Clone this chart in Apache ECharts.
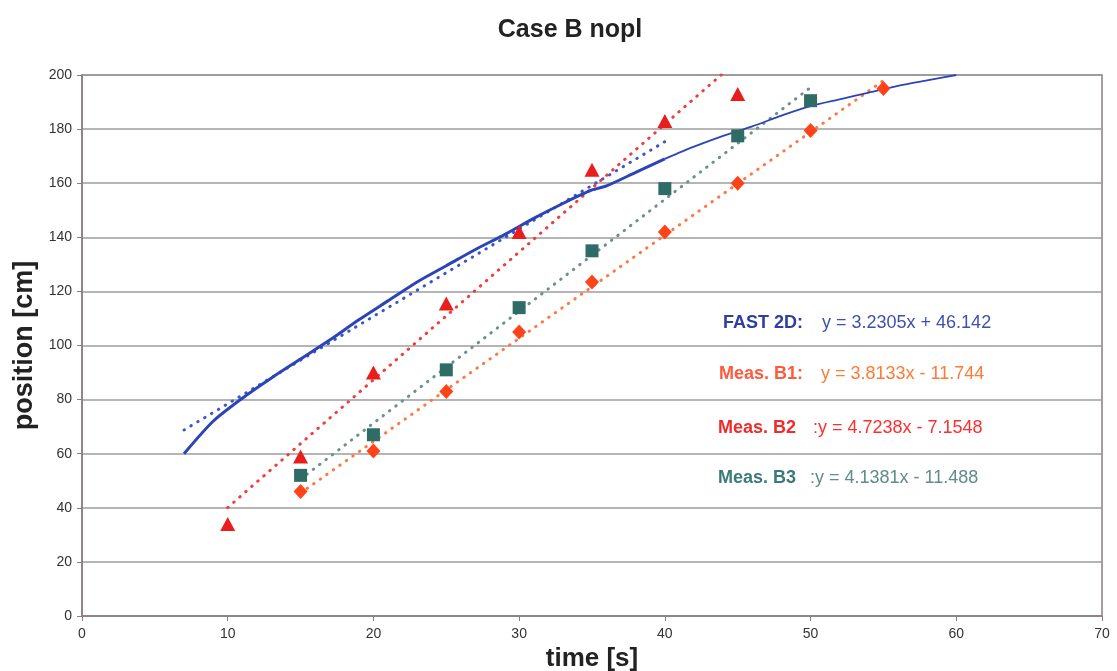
<!DOCTYPE html>
<html>
<head>
<meta charset="utf-8">
<title>Case B nopl</title>
<script src="https://cdn.jsdelivr.net/npm/echarts@6/dist/echarts.min.js"></script>
<style>
  html, body { margin: 0; padding: 0; background: #ffffff; }
  #chart { width: 1117px; height: 671px; }
</style>
</head>
<body>
<div id="chart"></div>
<script>
// FAST 2D simulated position over time (solid curve)
const fastTime = [7, 9, 11, 13, 15, 17, 19, 21, 23, 25, 27, 29, 31, 33, 35, 36, 38, 40, 42, 44, 46, 48, 50, 52, 54, 56, 58, 60];
const fastPos  = [60, 72, 80.5, 88, 95, 102, 109.5, 116.5, 123.5, 129.5, 135.5, 141, 147, 152.5, 157.5, 159, 164, 169, 173.5, 177.5, 181, 185, 188.5, 191, 193.5, 196, 198, 200];

// Measurements
const b1Time = [15, 20, 25, 30, 35, 40, 45, 50, 55];
const b1Pos  = [46, 61, 83, 105, 123.5, 142, 160, 179.5, 195];

const b2Time = [10, 15, 20, 25, 30, 35, 40, 45];
const b2Pos  = [34, 59, 90, 115.5, 142, 165, 183, 193];

const b3Time = [15, 20, 25, 30, 35, 40, 45, 50];
const b3Pos  = [52, 67, 91, 114, 135, 158, 177.5, 190.5];

// Linear trend lines: y = slope * x + intercept, drawn over [from, to]
const trendNames      = ['FAST 2D', 'Meas. B1', 'Meas. B2', 'Meas. B3'];
const trendSlopes     = [3.2305, 3.8133, 4.7238, 4.1381];
const trendIntercepts = [46.142, -11.744, -7.1548, -11.488];
const trendFrom       = [7, 15, 10, 15];
const trendTo         = [40, 55, 45, 50];

// Equation labels
const eqLabels = ['FAST 2D:', 'Meas. B1:', 'Meas. B2', 'Meas. B3'];
const eqTexts  = ['y = 3.2305x + 46.142', 'y = 3.8133x - 11.744', ':y = 4.7238x - 7.1548', ':y = 4.1381x - 11.488'];

// Axis ticks
const xTicks = [0, 10, 20, 30, 40, 50, 60, 70];
const yTicks = [0, 20, 40, 60, 80, 100, 120, 140, 160, 180, 200];

const trendColors = ['#3b55cf', '#ff7842', '#f03c3c', '#6a918a'];
const labelColors = ['#2f3f9f', '#ff5a3c', '#f22a2a', '#3b7a78'];
const eqColors    = ['#4050b2', '#ff7a36', '#ff2e2e', '#5f8c88'];
const labelX = [723, 719, 718, 718];
const eqX    = [822, 821, 813, 810];
const rowY   = [325, 376, 430, 480];

const pairs = (xs, ys) => xs.map((x, i) => [x, ys[i]]);

const fastPairs = pairs(fastTime, fastPos);
const fastHead = fastPairs.filter(p => p[0] <= 40);
const fastTail = fastPairs.filter(p => p[0] >= 40);

const trendSeries = trendNames.map((name, i) => ({
  name: name + ' trend',
  type: 'line',
  data: [
    [trendFrom[i], trendSlopes[i] * trendFrom[i] + trendIntercepts[i]],
    [trendTo[i], trendSlopes[i] * trendTo[i] + trendIntercepts[i]]
  ],
  showSymbol: false,
  symbol: 'none',
  clip: true,
  z: 2,
  lineStyle: { color: trendColors[i], width: 3, type: [0.5, 7.5], cap: 'round' }
}));

const graphics = [];
eqLabels.forEach((t, i) => {
  graphics.push({
    type: 'text', left: labelX[i], top: rowY[i] - 11,
    style: { text: t, fill: labelColors[i], font: 'bold 18px "Liberation Sans", Arial, sans-serif' }
  });
  graphics.push({
    type: 'text', left: eqX[i], top: rowY[i] - 11,
    style: { text: eqTexts[i], fill: eqColors[i], font: '18px "Liberation Sans", Arial, sans-serif' }
  });
});

const chart = echarts.init(document.getElementById('chart'), null, { renderer: 'canvas' });
chart.setOption({
  backgroundColor: '#ffffff',
  animation: false,
  title: {
    text: 'Case B nopl',
    left: 565, top: 13, textAlign: 'center',
    textStyle: { fontFamily: '"Liberation Sans", Arial, sans-serif', fontSize: 25, fontWeight: 'bold', color: '#222' }
  },
  grid: {
    left: 82, right: 15, top: 75, bottom: 55,
    show: true, borderColor: '#8a7c84', borderWidth: 1.5, backgroundColor: '#ffffff',
    outerBoundsMode: 'none'
  },
  xAxis: {
    type: 'value', min: 0, max: 70, interval: 10,
    name: 'time [s]', nameLocation: 'middle', nameGap: 25,
    nameTextStyle: { fontFamily: '"Liberation Sans", Arial, sans-serif', fontSize: 26, fontWeight: 'bold', color: '#222' },
    axisLine: { show: true, onZero: false, lineStyle: { color: '#8a7c84', width: 1.5 } },
    axisTick: { show: true, inside: false, length: 5, lineStyle: { color: '#8a7c84' } },
    axisLabel: {
      margin: 11, fontFamily: '"Liberation Sans", Arial, sans-serif', fontSize: 14, color: '#333',
      formatter: v => (xTicks.includes(v) ? String(v) : '')
    },
    splitLine: { show: false }
  },
  yAxis: {
    type: 'value', min: 0, max: 200, interval: 20,
    name: 'position [cm]', nameLocation: 'middle', nameGap: 40,
    nameTextStyle: { fontFamily: '"Liberation Sans", Arial, sans-serif', fontSize: 27, fontWeight: 'bold', color: '#222' },
    axisLine: { show: true, onZero: false, lineStyle: { color: '#8a7c84', width: 1.5 } },
    axisTick: { show: true, inside: false, length: 5, lineStyle: { color: '#8a7c84' } },
    axisLabel: {
      margin: 10, fontFamily: '"Liberation Sans", Arial, sans-serif', fontSize: 14, color: '#333',
      formatter: v => (yTicks.includes(v) ? String(v) : '')
    },
    splitLine: { show: true, lineStyle: { color: '#9c9c9c', width: 1.5 } }
  },
  graphic: graphics,
  series: [
    ...trendSeries,
    {
      name: 'FAST 2D',
      type: 'line', data: fastHead, showSymbol: false, symbol: 'none', smooth: 0.25, z: 3,
      lineStyle: { color: '#2b45b6', width: 3 }
    },
    {
      name: 'FAST 2D (late)',
      type: 'line', data: fastTail, showSymbol: false, symbol: 'none', smooth: 0.25, z: 3,
      lineStyle: { color: '#2b45b6', width: 1.8 }
    },
    {
      name: 'Meas. B1', type: 'scatter', data: pairs(b1Time, b1Pos), z: 5,
      symbol: 'diamond', symbolSize: [14, 15], itemStyle: { color: '#ff4319', opacity: 1 }
    },
    {
      name: 'Meas. B2', type: 'scatter', data: pairs(b2Time, b2Pos), z: 5,
      symbol: 'triangle', symbolSize: [15, 14], itemStyle: { color: '#ea1d1d', opacity: 1 }
    },
    {
      name: 'Meas. B3', type: 'scatter', data: pairs(b3Time, b3Pos), z: 5,
      symbol: 'rect', symbolSize: [13, 13], itemStyle: { color: '#2f6c66', opacity: 1 }
    }
  ]
});
</script>
</body>
</html>
